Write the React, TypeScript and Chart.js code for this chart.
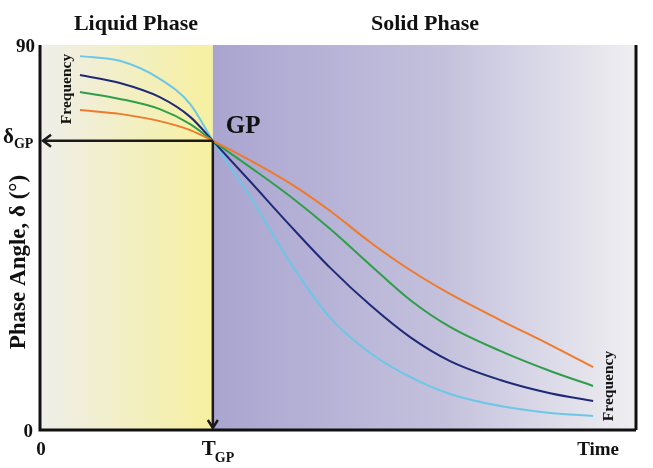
import React, { useEffect, useRef } from "react";
import { Chart, registerables } from "chart.js";

Chart.register(...registerables);

// Data (x: time units 0..100, y: phase angle 0..90)
const T_GP = 29.0;
const DELTA_GP = 67.6;
const X_MAX = 100;
const Y_MAX = 90;

const timeX = [6.7, 13.4, 20.1, 25.2, 29.0, 35.2, 41.9, 48.7, 55.4, 62.1, 68.8, 77.2, 85.6, 92.8];

const lightBlueY = [87.4, 86.3, 82.1, 76.2, 67.6, 54.7, 39.3, 26.2, 18.0, 12.4, 8.4, 5.6, 4.0, 3.3];
const navyY = [83.0, 81.1, 77.8, 73.2, 67.6, 58.2, 47.9, 37.9, 29.2, 21.7, 16.1, 11.7, 8.6, 6.8];
const greenY = [79.0, 77.4, 75.0, 71.5, 67.6, 61.5, 54.7, 47.0, 38.6, 30.4, 24.1, 18.5, 13.8, 10.3];
const orangeY = [74.8, 73.9, 72.2, 70.1, 67.6, 63.1, 57.7, 51.2, 43.9, 37.4, 31.8, 25.7, 19.9, 14.7];

const seriesColors = ["#ef7a2c", "#2f9e4a", "#1e2a78", "#6cc7e6"];

const zip = (xs: number[], ys: number[]) => xs.map((x, i) => ({ x, y: ys[i] }));

const FONT = "'Liberation Serif', 'Times New Roman', serif";

function arrowHead(ctx: CanvasRenderingContext2D, x: number, y: number, dir: "left" | "down") {
  ctx.beginPath();
  if (dir === "left") {
    ctx.moveTo(x + 8, y - 6);
    ctx.lineTo(x, y);
    ctx.lineTo(x + 8, y + 6);
  } else {
    ctx.moveTo(x - 5, y - 8);
    ctx.lineTo(x, y);
    ctx.lineTo(x + 5, y - 8);
  }
  ctx.stroke();
}

function vText(ctx: CanvasRenderingContext2D, text: string, x: number, y: number, font: string) {
  ctx.save();
  ctx.translate(x, y);
  ctx.rotate(-Math.PI / 2);
  ctx.textAlign = "center";
  ctx.textBaseline = "middle";
  ctx.font = font;
  ctx.fillText(text, 0, 0);
  ctx.restore();
}

const decorPlugin = {
  id: "decor",
  beforeDatasetsDraw(chart: any) {
    const { ctx, chartArea, scales } = chart;
    const { left, right, top, bottom } = chartArea;
    const xg = scales.x.getPixelForValue(T_GP);
    ctx.save();
    const g1 = ctx.createLinearGradient(left, 0, xg, 0);
    g1.addColorStop(0, "#efeeea");
    g1.addColorStop(1, "#f6f09f");
    ctx.fillStyle = g1;
    ctx.fillRect(left, top, xg - left, bottom - top);
    const g2 = ctx.createLinearGradient(xg, 0, right, 0);
    g2.addColorStop(0, "#aaa5d0");
    g2.addColorStop(0.55, "#c4c1dd");
    g2.addColorStop(1, "#efeff1");
    ctx.fillStyle = g2;
    ctx.fillRect(xg, top, right - xg, bottom - top);
    ctx.restore();
  },
  afterDatasetsDraw(chart: any) {
    const { ctx, chartArea, scales } = chart;
    const { left, right, top, bottom } = chartArea;
    const xg = scales.x.getPixelForValue(T_GP);
    const yg = scales.y.getPixelForValue(DELTA_GP);
    ctx.save();
    // axes
    ctx.strokeStyle = "#111";
    ctx.lineWidth = 3;
    ctx.lineCap = "butt";
    ctx.beginPath();
    ctx.moveTo(left, top);
    ctx.lineTo(left, bottom);
    ctx.lineTo(right, bottom);
    ctx.moveTo(right, top);
    ctx.lineTo(right, bottom);
    ctx.stroke();
    // GP guide arrows
    ctx.strokeStyle = "#1a1a1a";
    ctx.lineWidth = 2.5;
    ctx.beginPath();
    ctx.moveTo(xg, yg);
    ctx.lineTo(left + 3, yg);
    ctx.moveTo(xg, yg);
    ctx.lineTo(xg, bottom - 2);
    ctx.stroke();
    ctx.lineJoin = "miter";
    arrowHead(ctx, left + 3, yg, "left");
    arrowHead(ctx, xg, bottom - 2, "down");

    // texts
    ctx.fillStyle = "#111";
    ctx.textBaseline = "alphabetic";
    ctx.font = `bold 22px ${FONT}`;
    ctx.textAlign = "center";
    ctx.fillText("Liquid Phase", 136, 30);
    ctx.fillText("Solid Phase", 425, 30);

    ctx.font = `bold 19px ${FONT}`;
    ctx.textAlign = "right";
    ctx.fillText("90", left - 5, top + 7);
    ctx.fillText("0", left - 7, bottom + 7);
    ctx.textAlign = "center";
    ctx.fillText("0", left + 1, bottom + 25);
    ctx.textAlign = "right";
    ctx.fillText("Time", 619, bottom + 25);

    // T_GP
    ctx.textAlign = "left";
    ctx.font = `bold 21px ${FONT}`;
    const tw = ctx.measureText("T").width;
    ctx.fillText("T", xg - 11, bottom + 25);
    ctx.font = `bold 14px ${FONT}`;
    ctx.fillText("GP", xg - 12 + tw, bottom + 32);

    // delta_GP
    ctx.font = `bold 21px ${FONT}`;
    const dw = ctx.measureText("δ").width;
    ctx.fillText("δ", 3, yg + 2);
    ctx.font = `bold 14px ${FONT}`;
    ctx.fillText("GP", 3 + dw, yg + 7);

    // GP label
    ctx.font = `bold 25px ${FONT}`;
    ctx.fillText("GP", xg + 13, yg - 8);

    // Y axis title
    vText(ctx, "Phase Angle, δ (°)", 19, 262, `bold 23px ${FONT}`);

    // Frequency labels
    vText(ctx, "Frequency", 67, 89, `bold 15.5px ${FONT}`);
    vText(ctx, "Frequency", 609, 386, `bold 15.5px ${FONT}`);

    ctx.restore();
  },
};

export default function App() {
  const ref = useRef<HTMLCanvasElement | null>(null);
  useEffect(() => {
    if (!ref.current) return;
    const mk = (ys: number[], color: string) => ({
      data: zip(timeX, ys),
      borderColor: color,
      borderWidth: 2,
      pointRadius: 0,
      fill: false,
      cubicInterpolationMode: "monotone" as const,
    });
    const chart = new Chart(ref.current, {
      type: "line",
      data: {
        datasets: [
          mk(orangeY, seriesColors[0]),
          mk(greenY, seriesColors[1]),
          mk(navyY, seriesColors[2]),
          mk(lightBlueY, seriesColors[3]),
        ],
      },
      options: {
        animation: false,
        responsive: false,
        layout: { padding: { left: 40, right: 17, top: 45, bottom: 38 } },
        plugins: { legend: { display: false }, tooltip: { enabled: false } },
        scales: {
          x: { type: "linear", min: 0, max: X_MAX, display: false },
          y: { type: "linear", min: 0, max: Y_MAX, display: false },
        },
      },
      plugins: [decorPlugin],
    });
    return () => chart.destroy();
  }, []);
  return (
    <div style={{ position: "absolute", left: 0, top: 0, width: 653, height: 468, background: "#fff" }}>
      <canvas ref={ref} width={653} height={468} style={{ width: 653, height: 468 }} />
    </div>
  );
}
